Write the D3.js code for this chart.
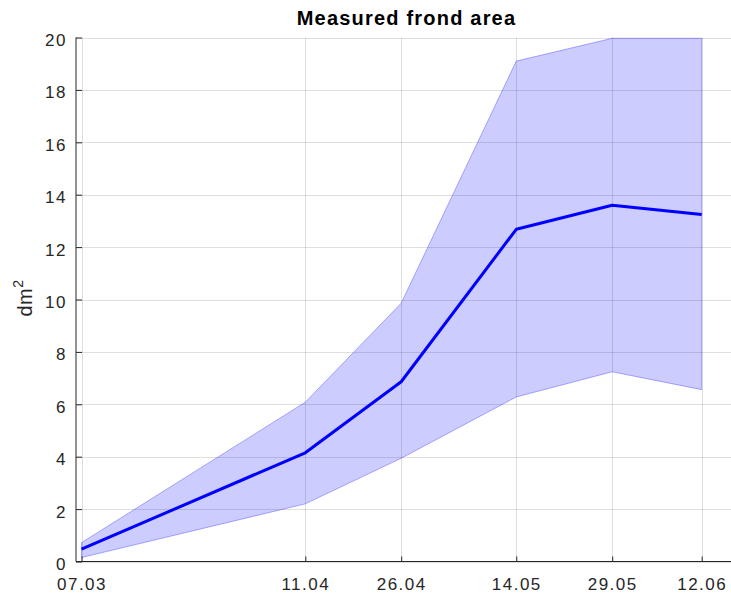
<!DOCTYPE html>
<html>
<head>
<meta charset="utf-8">
<script src="https://cdn.jsdelivr.net/npm/d3@7"></script>
<style>
body{margin:0;background:#fff;}
svg{display:block;font-family:"Liberation Sans",Arial,Helvetica,sans-serif;}
</style>
</head>
<body>
<div class="viz"></div>
<script>
// measurement dates (dd.mm) and frond area in dm^2
const dates=['07.03','11.04','26.04','14.05','29.05','12.06'];
const meanArea=[0.47,4.15,6.86,12.68,13.6,13.24];
const upperArea=[0.72,6.08,9.86,19.1,19.97,19.97];
const lowerArea=[0.15,2.2,3.94,6.28,7.24,6.56];
const yTicks=[0,2,4,6,8,10,12,14,16,18,20];

const width=731;
const height=597;

const parseDate=d3.timeParse('%d.%m.%Y');
const days=dates.map(d=>parseDate(d+'.2021'));

const rows=days.map((d,i)=>({date:d,mean:meanArea[i],hi:upperArea[i],lo:lowerArea[i]}));

const plotL=76, plotR=737, plotT=37.5, plotB=561.5;

const x=d3.scaleTime()
	.domain(d3.extent(days))
	.range([81.5,701.7]);

const y=d3.scaleLinear()
	.domain([0,20])
	.range([plotB,plotT]);

const svg=d3.select('.viz').append('svg')
	.attr('width',width)
	.attr('height',height);

svg.append('clipPath').attr('id','clip')
	.append('rect')
	.attr('x',plotL).attr('y',plotT-1)
	.attr('width',plotR-plotL).attr('height',plotB-plotT+1);

// shaded band between lower and upper
const area=d3.area()
	.x(d=>x(d.date))
	.y0(d=>y(d.lo))
	.y1(d=>y(d.hi));

svg.append('path')
	.datum(rows)
	.attr('clip-path','url(#clip)')
	.attr('d',area)
	.attr('fill','rgb(0,0,255)')
	.attr('fill-opacity',0.2)
	.attr('stroke','rgb(0,0,255)')
	.attr('stroke-opacity',0.3)
	.attr('stroke-width',1);

// grid
const grid=svg.append('g')
	.attr('stroke','rgb(38,38,38)')
	.attr('stroke-opacity',0.15)
	.attr('stroke-width',1);

grid.selectAll('.hgrid')
	.data(yTicks)
	.join('line')
	.attr('x1',plotL).attr('x2',plotR)
	.attr('y1',d=>Math.round(y(d))+0.5)
	.attr('y2',d=>Math.round(y(d))+0.5);

grid.selectAll('.vgrid')
	.data(days)
	.join('line')
	.attr('x1',d=>Math.round(x(d))+0.5)
	.attr('x2',d=>Math.round(x(d))+0.5)
	.attr('y1',plotT).attr('y2',plotB);

// mean line
const line=d3.line()
	.x(d=>x(d.date))
	.y(d=>y(d.mean));

svg.append('path')
	.datum(rows)
	.attr('d',line)
	.attr('fill','none')
	.attr('stroke','rgb(0,0,255)')
	.attr('stroke-width',3)
	.attr('stroke-linejoin','round');

// axes
const xAxis=d3.axisBottom(x)
	.tickValues(days)
	.tickFormat(d3.timeFormat('%d.%m'))
	.tickSizeInner(-5)
	.tickSizeOuter(0)
	.tickPadding(16);

const gx=svg.append('g')
	.attr('transform',`translate(0,${plotB})`)
	.call(xAxis);
gx.select('.domain').remove();

const yAxis=d3.axisLeft(y)
	.tickValues(yTicks)
	.tickSizeInner(-6)
	.tickSizeOuter(0)
	.tickPadding(9);

const gy=svg.append('g')
	.attr('transform',`translate(${plotL},0)`)
	.call(yAxis);
gy.select('.domain').remove();
gy.selectAll('.tick text').attr('dy','0.47em');

svg.selectAll('.tick line').attr('stroke','#262626');
svg.selectAll('.tick text')
	.attr('fill','#262626')
	.style('font-size','17px')
	.style('letter-spacing','1.5px');

svg.append('line')
	.attr('x1',plotL).attr('x2',plotR)
	.attr('y1',plotB).attr('y2',plotB)
	.attr('stroke','#262626');
svg.append('line')
	.attr('x1',plotL).attr('x2',plotL)
	.attr('y1',plotT).attr('y2',plotB)
	.attr('stroke','#262626');

// y label
const ylab=svg.append('text')
	.attr('transform','translate(32,298) rotate(-90)')
	.attr('text-anchor','middle')
	.attr('fill','#262626')
	.style('font-size','20px')
	.style('letter-spacing','0.5px');
ylab.append('tspan').text('dm');
ylab.append('tspan').attr('dy',-9).style('font-size','14px').text('2');

// title
svg.append('text')
	.attr('x',(plotL+plotR)/2)
	.attr('y',25)
	.attr('text-anchor','middle')
	.attr('fill','#000')
	.style('font-size','20px')
	.style('font-weight','bold')
	.style('letter-spacing','1.2px')
	.text('Measured frond area');
</script>
</body>
</html>
